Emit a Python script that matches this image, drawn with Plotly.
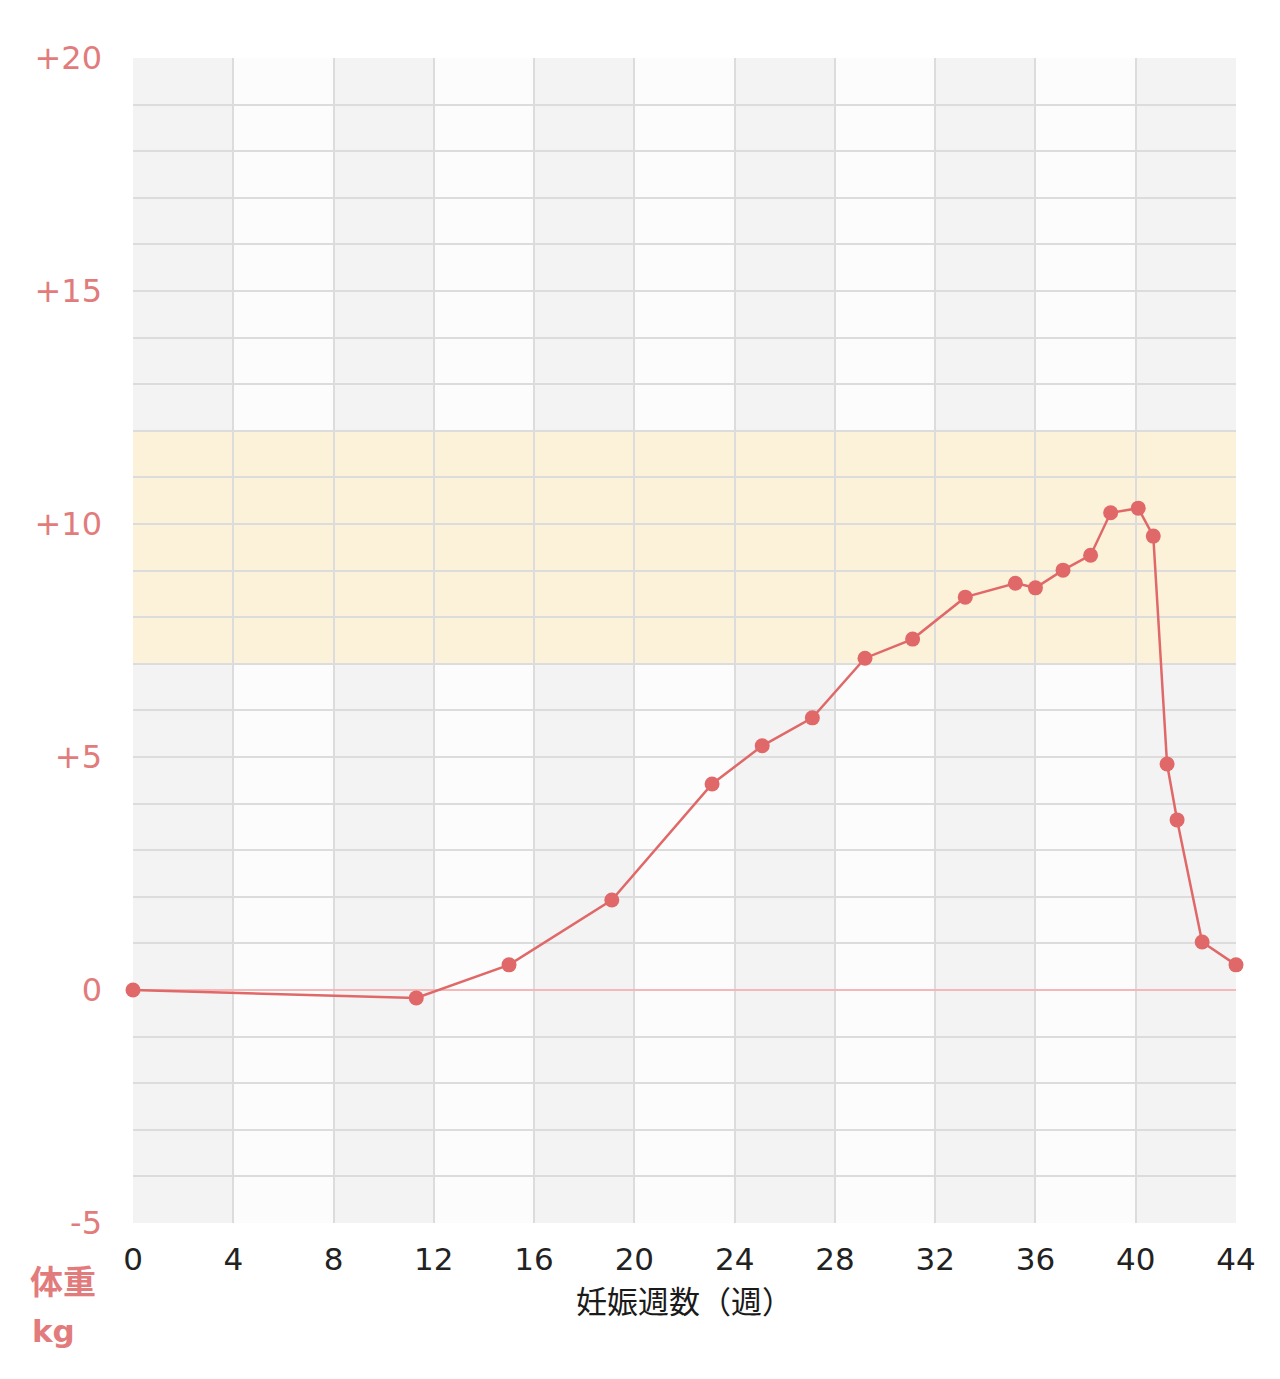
import plotly.graph_objects as go

# 妊娠週数と体重増加(kg)
weeks = [0, 11.3, 15, 19.1, 23.1, 25.1, 27.1, 29.2, 31.1, 33.2, 35.2, 36.0,
         37.1, 38.2, 39.0, 40.1, 40.7, 41.25, 41.65, 42.65, 44]
gain = [0.0, -0.17, 0.54, 1.93, 4.42, 5.24, 5.84, 7.12, 7.53, 8.43, 8.73, 8.63,
        9.01, 9.33, 10.24, 10.34, 9.74, 4.85, 3.65, 1.03, 0.54]

x_ticks = [0, 4, 8, 12, 16, 20, 24, 28, 32, 36, 40, 44]
y_ticks = [-5, 0, 5, 10, 15, 20]
y_labels = ['-5', '0', '+5', '+10', '+15', '+20']
target_low, target_high = 7, 12

pink = '#e06868'
label_pink = '#e27c7c'

fig = go.Figure()
fig.add_trace(go.Scatter(x=weeks, y=gain, mode='lines+markers',
                         line=dict(color=pink, width=2.5),
                         marker=dict(color=pink, size=15),
                         showlegend=False, cliponaxis=False))

# grey / white alternating columns
for i in range(len(x_ticks) - 1):
    if i % 2 == 0:
        fig.add_shape(type='rect', xref='x', yref='paper',
                      x0=x_ticks[i], x1=x_ticks[i + 1], y0=0, y1=1,
                      fillcolor='#f3f3f3', line_width=0, layer='below')
# recommended range
fig.add_shape(type='rect', xref='paper', yref='y', x0=0, x1=1,
              y0=target_low, y1=target_high,
              fillcolor='#fcf2da', line_width=0, layer='below')

fig.update_xaxes(range=[0, 44], tickvals=x_ticks, showgrid=True,
                 gridcolor='#dcdcdc', gridwidth=2, zeroline=False,
                 showline=False,
                 tickfont=dict(family='DejaVu Sans', size=31, color='#222222'),
                 ticklabelstandoff=15,
                 title=dict(text='妊娠週数（週）', standoff=8,
                            font=dict(family='Noto Sans CJK JP', size=31, color='#1a1a1a')))
fig.update_yaxes(range=[-5, 20], tickvals=y_ticks, ticktext=y_labels,
                 showgrid=True, gridcolor='#dcdcdc', gridwidth=2,
                 minor=dict(dtick=1, showgrid=True, gridcolor='#dcdcdc', gridwidth=2),
                 zeroline=True, zerolinecolor='#f5b8b8', zerolinewidth=2,
                 showline=False,
                 tickfont=dict(family='DejaVu Sans', size=32, color=label_pink),
                 ticklabelstandoff=30)

fig.add_annotation(text='<b>体重</b>', xref='paper', yref='paper', x=-0.095, y=-0.049,
                   showarrow=False, xanchor='left', yanchor='middle',
                   font=dict(family='Noto Sans CJK JP', size=33, color=label_pink))
fig.add_annotation(text='<b>kg</b>', xref='paper', yref='paper', x=-0.093, y=-0.093,
                   showarrow=False, xanchor='left', yanchor='middle',
                   font=dict(family='DejaVu Sans', size=31, color=label_pink))

fig.update_layout(width=1280, height=1379, margin=dict(l=125, r=52, t=50, b=164),
                  plot_bgcolor='#fcfcfc', paper_bgcolor='white')

fig.write_html('out.html')
